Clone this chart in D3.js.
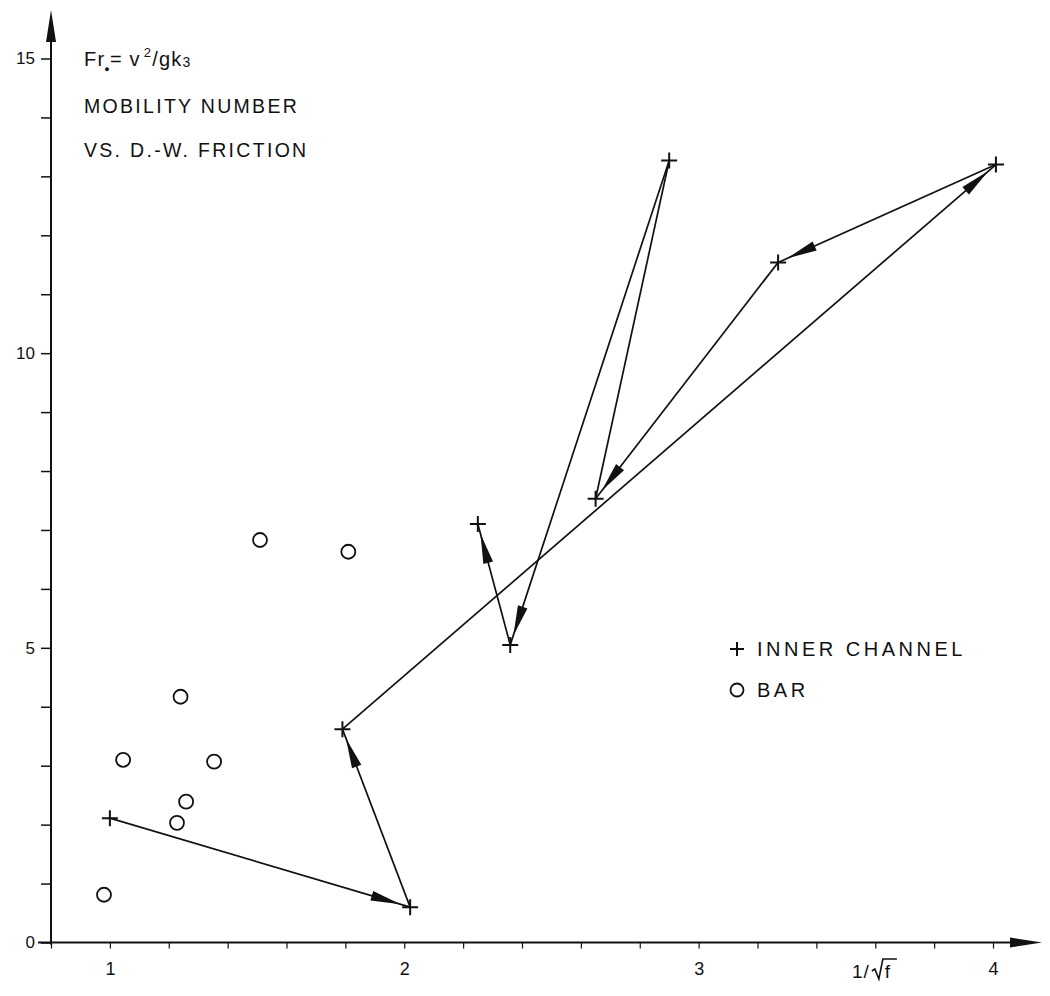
<!DOCTYPE html>
<html>
<head>
<meta charset="utf-8">
<script src="https://cdn.jsdelivr.net/npm/d3@7"></script>
<style>
  html, body { margin: 0; padding: 0; background: #fff; }
  svg { display: block; font-family: "Liberation Sans", Arial, sans-serif; }
</style>
</head>
<body>
<svg id="chart" width="1050" height="996"></svg>
<script>
// ---- data ----
const innerX = [1.00, 2.02, 1.79, 4.01, 3.27, 2.65, 2.90, 2.36, 2.25];
const innerY = [2.11, 0.60, 3.62, 13.20, 11.54, 7.53, 13.27, 5.05, 7.10];
const segmentHasArrow = [true, true, true, true, true, false, true, true];
const barX = [1.51, 1.81, 1.24, 1.045, 1.354, 1.259, 1.228, 0.98];
const barY = [6.83, 6.63, 4.17, 3.10, 3.07, 2.39, 2.03, 0.81];
const yTicks = d3.range(0, 16, 1);
const yLabelled = [0, 5, 10, 15];
const xTicks = d3.range(0, 17).map(i => +(0.8 + i * 0.2).toFixed(1));
const xLabelled = [1, 2, 3, 4];
const legendLabels = ["INNER CHANNEL", "BAR"];
const titleLines = ["MOBILITY NUMBER", "VS. D.-W. FRICTION"];
const xAxisTitleLead = "1/";
const xAxisTitleRadicand = "f";

// ---- layout ----
const svg = d3.select("#chart");
const x = d3.scaleLinear().domain([0.8, 4]).range([51, 993]);
const y = d3.scaleLinear().domain([0, 15]).range([942.5, 58.5]);
const ink = "#111";
const font = "Liberation Sans, Arial, sans-serif";

// y axis
const yAxis = d3.axisLeft(y).tickValues(yTicks).tickSize(10).tickPadding(6)
  .tickFormat(d => yLabelled.includes(d) ? d : "");
const gy = svg.append("g").attr("transform", `translate(${x(0.8)},0)`).call(yAxis);
gy.select(".domain").remove();
gy.selectAll(".tick line").attr("stroke", ink).attr("stroke-width", 1.5);
gy.selectAll(".tick text").attr("font-size", 17).attr("fill", ink).attr("font-family", font);

// x axis
const xAxis = d3.axisBottom(x).tickValues(xTicks).tickSize(6).tickPadding(14)
  .tickFormat(d => xLabelled.includes(d) ? d : "");
const gx = svg.append("g").attr("transform", `translate(0,${y(0)})`).call(xAxis);
gx.select(".domain").remove();
gx.selectAll(".tick line").attr("stroke", ink).attr("stroke-width", 1.2);
gx.selectAll(".tick text").attr("font-size", 18).attr("fill", ink).attr("font-family", font);

// axis lines with arrowheads
const x0 = x(0.8), y0 = y(0);
svg.append("line").attr("x1", x0).attr("y1", y0 + 2).attr("x2", x0).attr("y2", 30)
  .attr("stroke", ink).attr("stroke-width", 2);
svg.append("path").attr("d", `M${x0},10 L${x0 - 5},42 L${x0 + 5},42 Z`).attr("fill", ink);
svg.append("line").attr("x1", 38).attr("y1", y0).attr("x2", 1020).attr("y2", y0)
  .attr("stroke", ink).attr("stroke-width", 2);
svg.append("path").attr("d", `M1042,${y0} L1010,${y0 - 5} L1010,${y0 + 5} Z`).attr("fill", ink);

// x-axis title 1/√f with a drawn radical
const xtBase = 978;
const xt = svg.append("text").attr("x", 852).attr("y", xtBase).attr("font-size", 19)
  .attr("fill", ink).attr("letter-spacing", 1).text(xAxisTitleLead);
const leadW = xt.node().getComputedTextLength();
const rx = 852 + leadW + 2;
svg.append("path")
  .attr("d", `M${rx},${xtBase - 7} L${rx + 3},${xtBase - 9} L${rx + 7},${xtBase + 1} L${rx + 11},${xtBase - 19} L${rx + 25},${xtBase - 19}`)
  .attr("fill", "none").attr("stroke", ink).attr("stroke-width", 1.6);
svg.append("text").attr("x", rx + 13).attr("y", xtBase).attr("font-size", 19)
  .attr("fill", ink).text(xAxisTitleRadicand);

// ---- inner channel path with arrows ----
const pts = innerX.map((v, i) => [x(v), y(innerY[i])]);
const gap = 10, headLen = 30, headHalf = 5;
const gLines = svg.append("g");
for (let i = 0; i < pts.length - 1; i++) {
  const [ax, ay] = pts[i], [bx, by] = pts[i + 1];
  gLines.append("line").attr("x1", ax).attr("y1", ay).attr("x2", bx).attr("y2", by)
    .attr("stroke", ink).attr("stroke-width", 1.7);
  if (segmentHasArrow[i]) {
    const dx = bx - ax, dy = by - ay, L = Math.hypot(dx, dy);
    const ux = dx / L, uy = dy / L;
    const tx = bx - ux * gap, ty = by - uy * gap;
    const bx2 = tx - ux * headLen, by2 = ty - uy * headLen;
    const px = -uy, py = ux;
    gLines.append("path")
      .attr("d", `M${tx},${ty} L${bx2 + px * headHalf},${by2 + py * headHalf} L${bx2 - px * headHalf},${by2 - py * headHalf} Z`)
      .attr("fill", ink);
  }
}
// plus markers
svg.append("g").selectAll("path.plus").data(pts).join("path")
  .attr("class", "plus")
  .attr("d", d => `M${d[0] - 8},${d[1]} L${d[0] + 8},${d[1]} M${d[0]},${d[1] - 8} L${d[0]},${d[1] + 8}`)
  .attr("stroke", ink).attr("stroke-width", 2).attr("fill", "none");

// bar circles
svg.append("g").selectAll("circle").data(barX.map((v, i) => [v, barY[i]])).join("circle")
  .attr("cx", d => x(d[0])).attr("cy", d => y(d[1])).attr("r", 7)
  .attr("fill", "none").attr("stroke", ink).attr("stroke-width", 1.8);

// ---- title block ----
const t = svg.append("text").attr("x", 84).attr("y", 66).attr("font-size", 20)
  .attr("letter-spacing", 1.2).attr("fill", ink);
t.append("tspan").text("Fr");
t.append("tspan").attr("font-size", 9).attr("dy", 6).attr("dx", -1).text("\u25CF");
t.append("tspan").attr("dy", -6).attr("dx", -1).text("= v");
t.append("tspan").attr("font-size", 13).attr("dy", -9).attr("dx", 3).text("2");
t.append("tspan").attr("dy", 9).text("/gk");
t.append("tspan").attr("font-size", 14).attr("dy", 1).text("3");

titleLines.forEach((s, i) => {
  svg.append("text").attr("x", 84).attr("y", 113 + i * 44).attr("font-size", 19.5)
    .attr("letter-spacing", 2.3).attr("fill", ink).text(s);
});

// ---- legend ----
const lg = svg.append("g");
const lx = 737, ly = [649, 690];
lg.append("path").attr("d", `M${lx - 7},${ly[0]} L${lx + 7},${ly[0]} M${lx},${ly[0] - 7} L${lx},${ly[0] + 7}`)
  .attr("stroke", ink).attr("stroke-width", 2);
lg.append("circle").attr("cx", lx).attr("cy", ly[1]).attr("r", 6.5)
  .attr("fill", "none").attr("stroke", ink).attr("stroke-width", 1.8);
legendLabels.forEach((s, i) => {
  lg.append("text").attr("x", 757).attr("y", ly[i] + 7).attr("font-size", 20)
    .attr("letter-spacing", 3.5).attr("fill", ink).text(s);
});
</script>
</body>
</html>
